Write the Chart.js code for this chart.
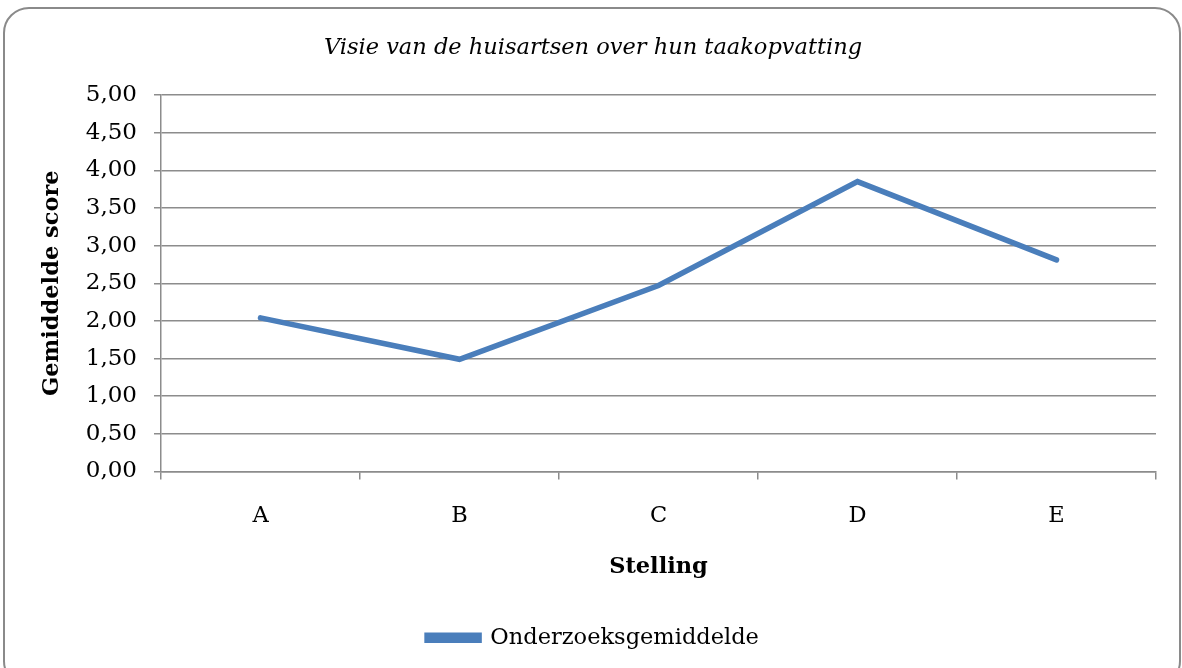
<!DOCTYPE html>
<html>
<head>
<meta charset="utf-8">
<script src="https://cdn.jsdelivr.net/npm/chart.js@4/dist/chart.umd.min.js"></script>
<style>
    html, body { margin: 0; padding: 0; background: #fff; overflow: hidden; }
    #wrap { position: relative; width: 1182px; height: 668px; }
    #frame {
        position: absolute; left: 3px; top: 7px; width: 1178px; height: 680px;
        border: 2px solid #8a8a8a; border-radius: 26px; box-sizing: border-box;
    }
    #chart { position: absolute; left: 0; top: 0; }
</style>
</head>
<body>
<div id="wrap">
    <div id="frame"></div>
    <canvas id="chart" width="1182" height="668"></canvas>
</div>
<script>
// Chart data
const categories = ['A', 'B', 'C', 'D', 'E'];
const scores = [2.04, 1.49, 2.47, 3.85, 2.81];
const seriesName = 'Onderzoeksgemiddelde';
const yTicks = [0, 0.5, 1, 1.5, 2, 2.5, 3, 3.5, 4, 4.5, 5];

const FONT = 'DejaVu Serif';
const GRID = '#8c8c8c';
const BLUE = '#4a7ebb';

const ctx = document.getElementById('chart');
new Chart(ctx, {
    type: 'line',
    data: {
        labels: categories,
        datasets: [{
            label: seriesName,
            data: scores,
            borderColor: BLUE,
            backgroundColor: BLUE,
            borderWidth: 5.5,
            pointRadius: 0,
            tension: 0,
            borderCapStyle: 'round'
        }]
    },
    options: {
        responsive: false,
        animation: false,
        layout: { padding: { left: 30, right: 26, top: 0, bottom: 9 } },
        plugins: {
            title: {
                display: true,
                text: 'Visie van de huisartsen over hun taakopvatting',
                color: '#000',
                font: { family: FONT, size: 22.5, style: 'italic', weight: 'normal' },
                padding: { top: 35, bottom: 33 }
            },
            legend: {
                position: 'bottom',
                labels: {
                    color: '#000',
                    font: { family: FONT, size: 22.5 },
                    boxWidth: 52,
                    boxHeight: 5,
                    padding: 10
                }
            },
            tooltip: { enabled: false }
        },
        scales: {
            x: {
                offset: true,
                grid: {
                    offset: true,
                    drawOnChartArea: false,
                    color: GRID,
                    lineWidth: 1.5,
                    tickLength: 8
                },
                border: { color: GRID, width: 1.5 },
                ticks: {
                    color: '#000',
                    font: { family: FONT, size: 22.5 },
                    padding: 23,
                    maxRotation: 0
                },
                title: {
                    display: true,
                    text: 'Stelling',
                    color: '#000',
                    font: { family: FONT, size: 22.5, weight: 'bold' },
                    padding: { top: 0, bottom: 36 }
                },
                afterFit: (scale) => { scale.height = 145; }
            },
            y: {
                min: 0,
                max: 5,
                afterBuildTicks: (scale) => {
                    scale.ticks = yTicks.map(v => ({ value: v }));
                },
                grid: {
                    color: GRID,
                    lineWidth: 1.5,
                    tickLength: 7
                },
                border: { color: GRID, width: 1.5 },
                ticks: {
                    color: '#000',
                    font: { family: FONT, size: 23 },
                    padding: 17,
                    callback: (v) => Number(v).toFixed(2).replace('.', ',')
                },
                title: {
                    display: true,
                    text: 'Gemiddelde score',
                    color: '#000',
                    font: { family: FONT, size: 22.5, weight: 'bold' },
                    padding: { top: 9, bottom: 0 }
                },
                afterFit: (scale) => { scale.width = 131; }
            }
        }
    }
});
</script>
</body>
</html>
